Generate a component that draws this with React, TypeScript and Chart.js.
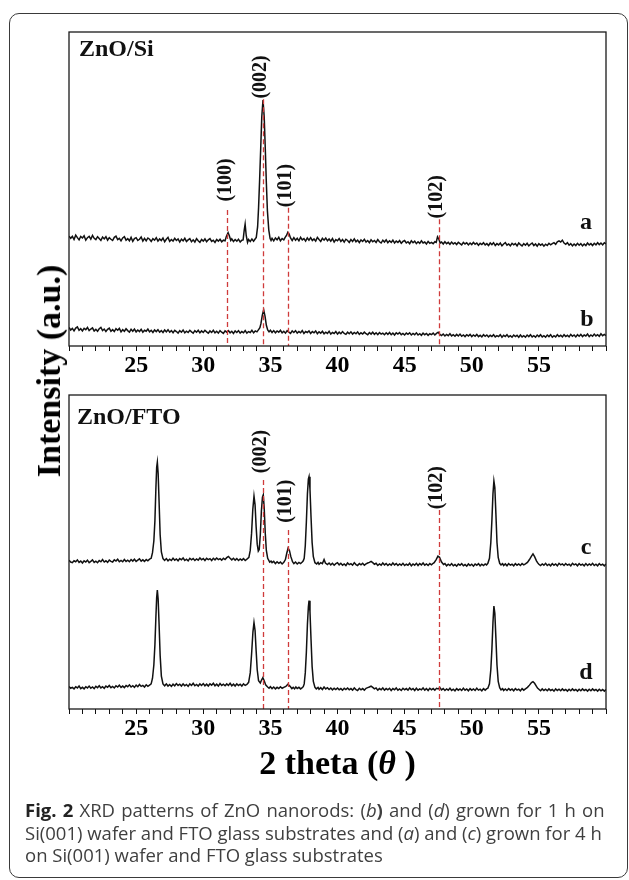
import React, { useEffect, useRef } from "react";
import { Chart, registerables } from "chart.js";

Chart.register(...registerables);

// ---------- data (2θ in degrees, intensity in arbitrary units as drawn) ----------
const X_MIN = 20;
const X_MAX = 60;
const TICK_LABELS = [25, 30, 35, 40, 45, 50, 55];

// ZnO/Si, 4 h (a)
const seriesA: [number, number][] = [
  [20, 35.0], [20.125, 34.3], [20.25, 34.9], [20.375, 33.9], [20.5, 35.3], [20.625, 34.5], [20.75, 33.8], [20.875, 34.9],
  [21, 34.4], [21.125, 35.1], [21.25, 33.7], [21.375, 34.5], [21.5, 34.9], [21.625, 34.0], [21.75, 35.2], [21.875, 34.3],
  [22, 33.9], [22.125, 34.8], [22.25, 34.2], [22.375, 33.6], [22.5, 34.7], [22.625, 34.1], [22.75, 34.8], [22.875, 33.7],
  [23, 34.5], [23.125, 34.0], [23.25, 33.6], [23.375, 34.6], [23.5, 35.0], [23.625, 33.9], [23.75, 34.3], [23.875, 33.5],
  [24, 34.4], [24.125, 34.8], [24.25, 33.7], [24.375, 34.2], [24.5, 33.5], [24.625, 34.6], [24.75, 33.3], [24.875, 34.2],
  [25, 34.5], [25.125, 33.6], [25.25, 34.0], [25.375, 34.7], [25.5, 33.4], [25.625, 34.3], [25.75, 33.5], [25.875, 34.4],
  [26, 34.0], [26.125, 33.3], [26.25, 34.2], [26.375, 33.7], [26.5, 34.5], [26.625, 33.4], [26.75, 34.1], [26.875, 33.6],
  [27, 34.4], [27.125, 33.2], [27.25, 34.0], [27.375, 34.6], [27.5, 33.3], [27.625, 33.9], [27.75, 33.4], [27.875, 34.3],
  [28, 33.6], [28.125, 34.1], [28.25, 33.1], [28.375, 34.0], [28.5, 33.5], [28.625, 34.3], [28.75, 33.3], [28.875, 33.8],
  [29, 34.2], [29.125, 33.2], [29.25, 33.8], [29.375, 33.1], [29.5, 34.2], [29.625, 33.5], [29.75, 33.0], [29.875, 33.9],
  [30, 33.4], [30.125, 34.1], [30.25, 33.2], [30.375, 33.8], [30.5, 34.2], [30.625, 33.3], [30.75, 33.7], [30.875, 33.0],
  [31, 33.9], [31.125, 33.4], [31.25, 34.0], [31.375, 33.2], [31.5, 33.7], [31.625, 33.5], [31.72, 34.9], [31.85, 36.1],
  [31.95, 35.0], [32.05, 33.6], [32.125, 34.1], [32.25, 33.3], [32.375, 33.9], [32.5, 33.4], [32.625, 34.0], [32.75, 33.1],
  [32.875, 33.7], [32.97, 33.8], [33.05, 36.8], [33.12, 38.8], [33.2, 35.2], [33.3, 33.0], [33.375, 33.9], [33.5, 33.3],
  [33.625, 34.1], [33.75, 33.4], [33.85, 34.0], [33.95, 34.6], [34.05, 38.0], [34.12, 44.0], [34.2, 53.0], [34.28, 63.0],
  [34.36, 73.0], [34.45, 78.3], [34.54, 73.0], [34.62, 63.0], [34.7, 52.0], [34.78, 43.0], [34.88, 37.0], [34.98, 34.2],
  [35.05, 33.6], [35.125, 34.3], [35.25, 33.5], [35.375, 34.4], [35.5, 33.8], [35.625, 34.6], [35.75, 33.5], [35.875, 34.2],
  [36, 33.8], [36.1, 34.6], [36.2, 35.2], [36.3, 36.2], [36.4, 35.6], [36.5, 34.4], [36.625, 33.6], [36.75, 34.5],
  [36.875, 33.7], [37, 34.3], [37.125, 33.5], [37.25, 34.6], [37.375, 33.8], [37.5, 34.2], [37.625, 33.4], [37.75, 34.4],
  [37.875, 33.7], [38, 34.5], [38.125, 33.6], [38.25, 34.1], [38.375, 33.4], [38.5, 34.6], [38.625, 33.9], [38.75, 33.3],
  [38.875, 34.3], [39, 33.7], [39.125, 34.4], [39.25, 33.5], [39.375, 34.1], [39.5, 33.4], [39.625, 34.2], [39.75, 33.1],
  [39.875, 33.9], [40, 33.5], [40.125, 34.2], [40.25, 33.3], [40.375, 33.9], [40.5, 33.1], [40.625, 34.0], [40.75, 33.6],
  [40.875, 33.0], [41, 33.9], [41.125, 33.3], [41.25, 34.1], [41.375, 33.2], [41.5, 33.7], [41.625, 32.9], [41.75, 33.8],
  [41.875, 33.3], [42, 34.0], [42.125, 33.1], [42.25, 33.6], [42.375, 32.9], [42.5, 33.8], [42.625, 33.2], [42.75, 33.6],
  [42.875, 33.0], [43, 33.9], [43.125, 33.2], [43.25, 32.8], [43.375, 33.7], [43.5, 33.1], [43.625, 33.8], [43.75, 32.9],
  [43.875, 33.5], [44, 33.0], [44.125, 33.7], [44.25, 32.8], [44.375, 33.4], [44.5, 33.0], [44.625, 33.6], [44.75, 32.7],
  [44.875, 33.3], [45, 33.6], [45.125, 32.8], [45.25, 33.2], [45.375, 32.6], [45.5, 33.5], [45.625, 32.9], [45.75, 33.4],
  [45.875, 32.6], [46, 33.2], [46.125, 32.7], [46.25, 33.5], [46.375, 32.8], [46.5, 33.1], [46.625, 32.5], [46.75, 33.3],
  [46.875, 32.7], [47, 33.0], [47.125, 32.6], [47.25, 33.2], [47.35, 33.0], [47.45, 34.8], [47.55, 34.0], [47.65, 32.8],
  [47.75, 33.1], [47.875, 32.5], [48, 33.2], [48.125, 32.6], [48.25, 33.0], [48.375, 32.4], [48.5, 33.1], [48.625, 32.5],
  [48.75, 32.9], [48.875, 32.3], [49, 33.0], [49.125, 32.6], [49.25, 32.2], [49.375, 33.0], [49.5, 32.5], [49.625, 32.9],
  [49.75, 32.2], [49.875, 32.8], [50, 32.3], [50.125, 33.0], [50.25, 32.4], [50.375, 32.8], [50.5, 32.1], [50.625, 32.7],
  [50.75, 32.3], [50.875, 32.9], [51, 32.2], [51.125, 32.6], [51.25, 32.0], [51.375, 32.8], [51.5, 32.3], [51.625, 32.9],
  [51.75, 32.0], [51.875, 32.6], [52, 32.2], [52.125, 32.8], [52.25, 31.9], [52.375, 32.5], [52.5, 32.9], [52.625, 32.1],
  [52.75, 32.5], [52.875, 31.9], [53, 32.7], [53.125, 32.2], [53.25, 32.6], [53.375, 31.9], [53.5, 32.8], [53.625, 32.3],
  [53.75, 31.9], [53.875, 32.6], [54, 32.1], [54.125, 32.7], [54.25, 31.9], [54.375, 32.4], [54.5, 32.8], [54.625, 32.0],
  [54.75, 32.5], [54.875, 31.8], [55, 32.6], [55.125, 32.1], [55.25, 32.5], [55.375, 31.8], [55.5, 32.4], [55.625, 32.0],
  [55.75, 32.7], [55.875, 32.2], [56, 32.6], [56.125, 32.9], [56.25, 32.4], [56.375, 33.2], [56.5, 33.5], [56.625, 33.1],
  [56.75, 33.7], [56.875, 32.8], [57, 32.4], [57.125, 32.9], [57.25, 32.1], [57.375, 32.6], [57.5, 31.9], [57.625, 32.5],
  [57.75, 32.0], [57.875, 32.7], [58, 32.1], [58.125, 32.6], [58.25, 31.9], [58.375, 32.5], [58.5, 32.0], [58.625, 32.8],
  [58.75, 32.2], [58.875, 32.6], [59, 32.0], [59.125, 32.7], [59.25, 32.2], [59.375, 32.9], [59.5, 32.3], [59.625, 32.8],
  [59.75, 32.2], [59.875, 32.9], [60, 32.5],
];

// ZnO/Si, 1 h (b)
const seriesB: [number, number][] = [
  [20, 5.9], [20.125, 5.1], [20.25, 5.6], [20.375, 4.8], [20.5, 5.7], [20.625, 6.1], [20.75, 5.0], [20.875, 5.5],
  [21, 4.8], [21.125, 5.6], [21.25, 5.2], [21.375, 5.9], [21.5, 4.9], [21.625, 5.4], [21.75, 5.8], [21.875, 4.8],
  [22, 5.3], [22.125, 4.7], [22.25, 5.5], [22.375, 5.9], [22.5, 4.9], [22.625, 5.4], [22.75, 4.6], [22.875, 5.3],
  [23, 5.7], [23.125, 4.7], [23.25, 5.2], [23.375, 4.6], [23.5, 5.5], [23.625, 5.0], [23.75, 5.6], [23.875, 4.5],
  [24, 5.2], [24.125, 4.7], [24.25, 5.5], [24.375, 4.9], [24.5, 4.4], [24.625, 5.3], [24.75, 4.7], [24.875, 5.4],
  [25, 4.5], [25.125, 5.1], [25.25, 4.6], [25.375, 5.3], [25.5, 4.4], [25.625, 5.0], [25.75, 4.7], [25.875, 5.4],
  [26, 4.5], [26.125, 5.0], [26.25, 4.3], [26.375, 5.1], [26.5, 4.6], [26.625, 5.2], [26.75, 4.4], [26.875, 4.9],
  [27, 4.3], [27.125, 5.1], [27.25, 4.5], [27.375, 5.2], [27.5, 4.4], [27.625, 4.9], [27.75, 4.2], [27.875, 5.0],
  [28, 4.6], [28.125, 4.1], [28.25, 4.9], [28.375, 4.4], [28.5, 5.1], [28.625, 4.2], [28.75, 4.7], [28.875, 4.3],
  [29, 5.0], [29.125, 4.5], [29.25, 4.1], [29.375, 4.9], [29.5, 4.4], [29.625, 5.0], [29.75, 4.2], [29.875, 4.8],
  [30, 4.3], [30.125, 5.0], [30.25, 4.5], [30.375, 4.1], [30.5, 4.8], [30.625, 4.3], [30.75, 5.0], [30.875, 4.2],
  [31, 4.7], [31.125, 4.1], [31.25, 4.9], [31.375, 4.4], [31.5, 4.0], [31.625, 4.8], [31.75, 4.4], [31.875, 4.9],
  [32, 4.2], [32.125, 4.7], [32.25, 4.0], [32.375, 4.8], [32.5, 4.3], [32.625, 4.9], [32.75, 4.1], [32.875, 4.6],
  [33, 4.2], [33.125, 4.9], [33.25, 4.1], [33.375, 4.6], [33.5, 4.3], [33.625, 5.0], [33.75, 4.2], [33.875, 4.8],
  [34, 4.5], [34.12, 5.2], [34.22, 5.8], [34.3, 7.2], [34.4, 9.8], [34.5, 11.5], [34.6, 9.5], [34.7, 6.6],
  [34.8, 5.1], [34.9, 4.5], [35, 5.0], [35.125, 4.3], [35.25, 4.9], [35.375, 4.2], [35.5, 4.8], [35.625, 4.4],
  [35.75, 5.0], [35.875, 4.2], [36, 4.7], [36.125, 4.1], [36.25, 4.9], [36.375, 4.4], [36.5, 4.0], [36.625, 4.8],
  [36.75, 4.3], [36.875, 4.9], [37, 4.1], [37.125, 4.6], [37.25, 4.2], [37.375, 4.9], [37.5, 4.0], [37.625, 4.6],
  [37.75, 4.3], [37.875, 4.8], [38, 4.0], [38.125, 4.6], [38.25, 4.2], [38.375, 4.8], [38.5, 3.9], [38.625, 4.5],
  [38.75, 4.1], [38.875, 4.7], [39, 3.9], [39.125, 4.4], [39.25, 4.0], [39.375, 4.7], [39.5, 3.8], [39.625, 4.3],
  [39.75, 4.0], [39.875, 4.6], [40, 3.8], [40.125, 4.4], [40.25, 3.9], [40.375, 4.6], [40.5, 4.0], [40.625, 3.7],
  [40.75, 4.4], [40.875, 3.9], [41, 4.5], [41.125, 3.8], [41.25, 4.3], [41.375, 3.9], [41.5, 4.5], [41.625, 3.7],
  [41.75, 4.2], [41.875, 3.8], [42, 4.4], [42.125, 3.9], [42.25, 3.6], [42.375, 4.3], [42.5, 3.8], [42.625, 4.4],
  [42.75, 3.7], [42.875, 4.2], [43, 3.6], [43.125, 4.3], [43.25, 3.8], [43.375, 4.1], [43.5, 3.6], [43.625, 4.2],
  [43.75, 3.7], [43.875, 4.3], [44, 3.6], [44.125, 4.1], [44.25, 3.5], [44.375, 4.2], [44.5, 3.8], [44.625, 4.3],
  [44.75, 3.6], [44.875, 4.0], [45, 3.5], [45.125, 4.1], [45.25, 3.7], [45.375, 4.2], [45.5, 3.5], [45.625, 4.0],
  [45.75, 3.6], [45.875, 4.2], [46, 3.5], [46.125, 3.9], [46.25, 3.4], [46.375, 4.1], [46.5, 3.6], [46.625, 4.0],
  [46.75, 3.4], [46.875, 3.9], [47, 3.6], [47.125, 4.1], [47.25, 3.5], [47.375, 4.0], [47.5, 4.4], [47.625, 3.7],
  [47.75, 3.3], [47.875, 3.8], [48, 3.2], [48.125, 3.7], [48.25, 3.3], [48.375, 3.9], [48.5, 3.2], [48.625, 3.6],
  [48.75, 3.1], [48.875, 3.7], [49, 3.2], [49.125, 3.8], [49.25, 3.1], [49.375, 3.5], [49.5, 3.0], [49.625, 3.6],
  [49.75, 3.2], [49.875, 3.7], [50, 3.0], [50.125, 3.5], [50.25, 3.1], [50.375, 3.7], [50.5, 3.0], [50.625, 3.4],
  [50.75, 2.9], [50.875, 3.6], [51, 3.1], [51.125, 3.5], [51.25, 2.9], [51.375, 3.4], [51.5, 3.0], [51.625, 3.6],
  [51.75, 2.9], [51.875, 3.3], [52, 3.0], [52.125, 3.6], [52.25, 2.8], [52.375, 3.4], [52.5, 3.0], [52.625, 3.6],
  [52.75, 2.9], [52.875, 3.3], [53, 2.8], [53.125, 3.5], [53.25, 3.0], [53.375, 3.4], [53.5, 2.8], [53.625, 3.5],
  [53.75, 2.9], [53.875, 3.3], [54, 2.8], [54.125, 3.5], [54.25, 3.0], [54.375, 3.6], [54.5, 2.9], [54.625, 3.3],
  [54.75, 2.8], [54.875, 3.5], [55, 3.0], [55.125, 3.6], [55.25, 2.9], [55.375, 3.3], [55.5, 2.8], [55.625, 3.5],
  [55.75, 3.0], [55.875, 3.6], [56, 2.8], [56.125, 3.3], [56.25, 2.9], [56.375, 3.6], [56.5, 3.0], [56.625, 3.4],
  [56.75, 2.9], [56.875, 3.6], [57, 3.0], [57.125, 3.4], [57.25, 2.9], [57.375, 3.7], [57.5, 3.1], [57.625, 3.5],
  [57.75, 2.9], [57.875, 3.6], [58, 3.1], [58.125, 3.7], [58.25, 3.0], [58.375, 3.5], [58.5, 3.2], [58.625, 3.8],
  [58.75, 3.0], [58.875, 3.5], [59, 3.1], [59.125, 3.8], [59.25, 3.2], [59.375, 3.6], [59.5, 3.1], [59.625, 3.9],
  [59.75, 3.3], [59.875, 3.7], [60, 3.3],
];

// ZnO/FTO, 4 h (c)
const seriesC: [number, number][] = [
  [20, 47.4], [20.125, 46.8], [20.25, 46.6], [20.375, 47.2], [20.5, 46.9], [20.625, 47.5], [20.75, 46.7], [20.875, 47.1],
  [21, 46.5], [21.125, 47.2], [21.25, 46.8], [21.375, 47.4], [21.5, 46.6], [21.625, 47.0], [21.75, 47.5], [21.875, 46.7],
  [22, 47.1], [22.125, 46.6], [22.25, 47.3], [22.375, 46.9], [22.5, 47.6], [22.625, 46.8], [22.75, 47.2], [22.875, 46.7],
  [23, 47.4], [23.125, 47.0], [23.25, 46.8], [23.375, 47.5], [23.5, 47.1], [23.625, 47.7], [23.75, 46.9], [23.875, 47.3],
  [24, 46.9], [24.125, 47.6], [24.25, 47.0], [24.375, 47.4], [24.5, 46.9], [24.625, 47.6], [24.75, 47.1], [24.875, 47.7],
  [25, 47.0], [25.125, 47.4], [25.25, 47.8], [25.375, 47.1], [25.5, 47.5], [25.625, 47.0], [25.75, 47.6], [25.875, 47.2],
  [26, 47.7], [26.12, 48.0], [26.22, 49.8], [26.32, 53.5], [26.4, 60.0], [26.47, 70.0], [26.53, 77.0], [26.58, 78.6],
  [26.64, 75.0], [26.71, 66.0], [26.79, 55.5], [26.88, 50.0], [27, 47.9], [27.125, 47.3], [27.25, 47.9], [27.375, 47.2],
  [27.5, 47.7], [27.625, 47.3], [27.75, 48.0], [27.875, 47.4], [28, 47.8], [28.125, 47.2], [28.25, 47.9], [28.375, 47.5],
  [28.5, 48.1], [28.625, 47.3], [28.75, 47.7], [28.875, 47.2], [29, 48.0], [29.125, 47.5], [29.25, 47.9], [29.375, 47.3],
  [29.5, 47.8], [29.625, 47.4], [29.75, 48.1], [29.875, 47.5], [30, 47.9], [30.125, 47.3], [30.25, 48.0], [30.375, 47.6],
  [30.5, 47.9], [30.625, 47.3], [30.75, 48.0], [30.875, 47.5], [31, 48.1], [31.125, 47.6], [31.25, 47.9], [31.375, 47.4],
  [31.5, 48.0], [31.625, 47.6], [31.75, 48.2], [31.875, 48.6], [32, 48.0], [32.125, 47.5], [32.25, 48.0], [32.375, 47.4],
  [32.5, 47.9], [32.625, 47.3], [32.75, 47.8], [32.875, 47.4], [33, 47.9], [33.125, 47.3], [33.25, 47.7], [33.4, 48.3],
  [33.5, 50.5], [33.6, 56.0], [33.69, 63.5], [33.78, 67.8], [33.86, 65.0], [33.94, 58.0], [34.02, 52.5], [34.1, 50.3],
  [34.17, 50.8], [34.25, 55.5], [34.33, 63.0], [34.41, 67.5], [34.47, 68.2], [34.54, 64.0], [34.62, 56.0], [34.7, 50.5],
  [34.8, 48.0], [34.95, 46.8], [35.05, 47.1], [35.125, 46.6], [35.25, 47.0], [35.375, 46.3], [35.5, 46.9], [35.625, 46.4],
  [35.75, 46.8], [35.875, 46.2], [36, 46.7], [36.12, 47.6], [36.22, 49.6], [36.32, 51.2], [36.42, 50.5], [36.52, 48.6],
  [36.65, 46.9], [36.75, 46.3], [36.875, 46.8], [37, 46.2], [37.125, 46.7], [37.25, 46.3], [37.375, 46.8], [37.45, 47.2],
  [37.52, 48.0], [37.6, 52.0], [37.68, 59.5], [37.76, 68.5], [37.83, 73.2], [37.88, 74.0], [37.95, 70.0], [38.03, 61.0],
  [38.11, 53.0], [38.2, 48.5], [38.32, 46.6], [38.45, 46.2], [38.55, 46.7], [38.625, 46.1], [38.75, 46.6], [38.875, 46.3],
  [39, 47.6], [39.1, 46.5], [39.25, 46.0], [39.375, 46.5], [39.5, 45.9], [39.625, 46.4], [39.75, 45.8], [39.875, 46.3],
  [40, 46.6], [40.125, 45.9], [40.25, 46.4], [40.375, 45.8], [40.5, 46.2], [40.625, 45.7], [40.75, 46.5], [40.875, 46.0],
  [41, 46.3], [41.125, 45.8], [41.25, 46.6], [41.375, 46.0], [41.5, 45.7], [41.625, 46.3], [41.75, 45.9], [41.875, 46.4],
  [42, 45.8], [42.125, 46.2], [42.25, 46.5], [42.375, 46.7], [42.5, 47.0], [42.625, 46.6], [42.75, 46.1], [42.875, 46.4],
  [43, 45.7], [43.125, 46.2], [43.25, 45.8], [43.375, 46.5], [43.5, 45.9], [43.625, 46.3], [43.75, 45.7], [43.875, 46.2],
  [44, 45.8], [44.125, 46.5], [44.25, 45.9], [44.375, 46.3], [44.5, 45.7], [44.625, 46.2], [44.75, 45.8], [44.875, 46.4],
  [45, 45.7], [45.125, 46.1], [45.25, 45.8], [45.375, 46.4], [45.5, 45.6], [45.625, 46.2], [45.75, 45.8], [45.875, 46.4],
  [46, 45.7], [46.125, 46.3], [46.25, 45.9], [46.375, 46.5], [46.5, 45.8], [46.625, 46.2], [46.75, 45.7], [46.875, 46.3],
  [47, 45.9], [47.125, 46.4], [47.2, 46.6], [47.35, 47.6], [47.48, 48.7], [47.6, 48.3], [47.75, 46.8], [47.9, 46.0],
  [48, 46.3], [48.125, 45.6], [48.25, 46.1], [48.375, 45.7], [48.5, 46.3], [48.625, 45.6], [48.75, 46.0], [48.875, 45.5],
  [49, 46.2], [49.125, 45.8], [49.25, 46.3], [49.375, 45.6], [49.5, 46.0], [49.625, 45.5], [49.75, 46.2], [49.875, 45.7],
  [50, 46.1], [50.125, 45.5], [50.25, 46.2], [50.375, 45.8], [50.5, 46.3], [50.625, 45.6], [50.75, 46.1], [50.875, 45.7],
  [51, 46.2], [51.1, 45.9], [51.2, 46.4], [51.32, 48.0], [51.42, 53.0], [51.5, 60.0], [51.58, 68.5], [51.65, 72.6],
  [51.72, 70.5], [51.8, 62.0], [51.88, 53.0], [51.97, 48.3], [52.08, 46.4], [52.18, 45.9], [52.3, 46.3], [52.375, 45.7],
  [52.5, 46.2], [52.625, 45.6], [52.75, 46.3], [52.875, 45.8], [53, 46.1], [53.125, 45.6], [53.25, 46.3], [53.375, 45.8],
  [53.5, 46.2], [53.625, 45.7], [53.75, 46.3], [53.875, 45.9], [54, 46.2], [54.15, 46.7], [54.3, 47.6], [54.45, 48.7],
  [54.56, 49.4], [54.68, 48.5], [54.82, 47.2], [54.9, 46.6], [55, 46.1], [55.125, 45.7], [55.25, 46.2], [55.375, 45.8],
  [55.5, 46.4], [55.625, 45.7], [55.75, 46.1], [55.875, 45.6], [56, 46.3], [56.125, 45.8], [56.25, 46.2], [56.375, 45.6],
  [56.5, 46.4], [56.625, 45.9], [56.75, 46.2], [56.875, 45.7], [57, 46.3], [57.125, 45.8], [57.25, 46.1], [57.375, 45.6],
  [57.5, 46.4], [57.625, 45.9], [57.75, 46.2], [57.875, 45.6], [58, 46.3], [58.125, 45.8], [58.25, 46.1], [58.375, 45.6],
  [58.5, 46.3], [58.625, 45.7], [58.75, 46.2], [58.875, 45.8], [59, 46.4], [59.125, 45.7], [59.25, 46.1], [59.375, 45.6],
  [59.5, 46.3], [59.625, 45.8], [59.75, 46.1], [59.875, 45.6], [60, 46.2],
];

// ZnO/FTO, 1 h (d)
const seriesD: [number, number][] = [
  [20, 7.2], [20.125, 6.6], [20.25, 6.9], [20.375, 6.4], [20.5, 7.1], [20.625, 6.7], [20.75, 7.3], [20.875, 6.5],
  [21, 6.9], [21.125, 6.4], [21.25, 7.1], [21.375, 6.7], [21.5, 7.3], [21.625, 6.6], [21.75, 7.0], [21.875, 6.5],
  [22, 7.2], [22.125, 6.8], [22.25, 7.4], [22.375, 6.7], [22.5, 7.1], [22.625, 6.6], [22.75, 7.3], [22.875, 6.9],
  [23, 7.5], [23.125, 6.8], [23.25, 7.2], [23.375, 6.7], [23.5, 7.4], [23.625, 7.0], [23.75, 7.6], [23.875, 6.9],
  [24, 7.3], [24.125, 6.8], [24.25, 7.5], [24.375, 7.1], [24.5, 7.7], [24.625, 7.0], [24.75, 7.4], [24.875, 6.9],
  [25, 7.6], [25.125, 7.1], [25.25, 7.8], [25.375, 7.2], [25.5, 7.5], [25.625, 7.0], [25.75, 7.7], [25.875, 7.2],
  [26, 7.6], [26.12, 8.0], [26.22, 9.8], [26.32, 14.0], [26.4, 20.5], [26.47, 29.0], [26.53, 35.5], [26.58, 37.9],
  [26.64, 35.0], [26.71, 27.0], [26.79, 17.0], [26.88, 10.5], [27, 8.0], [27.125, 7.4], [27.25, 8.0], [27.375, 7.3],
  [27.5, 7.8], [27.625, 7.2], [27.75, 7.9], [27.875, 7.4], [28, 8.1], [28.125, 7.5], [28.25, 7.9], [28.375, 7.3],
  [28.5, 8.0], [28.625, 7.4], [28.75, 7.8], [28.875, 7.2], [29, 8.0], [29.125, 7.5], [29.25, 8.2], [29.375, 7.4],
  [29.5, 7.8], [29.625, 7.3], [29.75, 8.0], [29.875, 7.5], [30, 8.1], [30.125, 7.4], [30.25, 7.9], [30.375, 7.3],
  [30.5, 8.0], [30.625, 7.6], [30.75, 8.2], [30.875, 7.4], [31, 7.9], [31.125, 7.3], [31.25, 8.1], [31.375, 7.5],
  [31.5, 7.9], [31.625, 7.4], [31.75, 8.0], [31.875, 7.5], [32, 8.2], [32.125, 7.4], [32.25, 7.9], [32.375, 7.3],
  [32.5, 8.0], [32.625, 7.5], [32.75, 7.9], [32.875, 7.3], [33, 8.0], [33.125, 7.5], [33.25, 7.8], [33.38, 8.5],
  [33.5, 11.5], [33.6, 17.5], [33.7, 24.5], [33.78, 27.5], [33.86, 25.0], [33.94, 18.5], [34.02, 12.5], [34.12, 9.0],
  [34.25, 8.3], [34.35, 9.3], [34.44, 10.0], [34.54, 9.0], [34.66, 7.6], [34.8, 7.0], [34.9, 6.6], [35, 7.1],
  [35.125, 6.5], [35.25, 7.0], [35.375, 6.4], [35.5, 6.9], [35.625, 6.5], [35.75, 7.1], [35.875, 6.6], [36, 6.9],
  [36.15, 7.2], [36.3, 7.9], [36.45, 7.3], [36.6, 6.5], [36.7, 6.9], [36.8, 6.4], [36.9, 7.0], [37, 6.5],
  [37.125, 6.9], [37.25, 6.4], [37.375, 6.8], [37.45, 7.1], [37.52, 8.0], [37.6, 11.5], [37.68, 18.0], [37.76, 27.0],
  [37.83, 32.5], [37.88, 34.5], [37.95, 31.0], [38.03, 22.0], [38.11, 13.5], [38.2, 8.8], [38.32, 6.9], [38.42, 6.4],
  [38.55, 6.9], [38.625, 6.3], [38.75, 6.8], [38.875, 6.2], [39, 7.0], [39.125, 6.4], [39.25, 6.8], [39.375, 6.2],
  [39.5, 6.7], [39.625, 6.1], [39.75, 6.6], [39.875, 6.2], [40, 6.7], [40.125, 6.1], [40.25, 6.5], [40.375, 6.0],
  [40.5, 6.6], [40.625, 6.2], [40.75, 6.7], [40.875, 6.1], [41, 6.5], [41.125, 6.0], [41.25, 6.7], [41.375, 6.2],
  [41.5, 5.9], [41.625, 6.6], [41.75, 6.1], [41.875, 6.5], [42, 6.0], [42.125, 6.6], [42.25, 6.8], [42.375, 7.0],
  [42.5, 7.3], [42.625, 6.9], [42.75, 6.4], [42.875, 6.7], [43, 6.0], [43.125, 6.5], [43.25, 6.1], [43.375, 6.7],
  [43.5, 6.0], [43.625, 6.5], [43.75, 6.1], [43.875, 6.6], [44, 5.9], [44.125, 6.5], [44.25, 6.1], [44.375, 6.7],
  [44.5, 6.0], [44.625, 6.4], [44.75, 5.9], [44.875, 6.6], [45, 6.1], [45.125, 6.5], [45.25, 6.0], [45.375, 6.7],
  [45.5, 6.1], [45.625, 6.5], [45.75, 5.9], [45.875, 6.6], [46, 6.0], [46.125, 6.4], [46.25, 6.1], [46.375, 6.7],
  [46.5, 6.0], [46.625, 6.5], [46.75, 5.9], [46.875, 6.6], [47, 6.1], [47.125, 6.5], [47.25, 6.0], [47.375, 6.6],
  [47.5, 6.4], [47.625, 6.8], [47.75, 6.1], [47.875, 6.5], [48, 5.9], [48.125, 6.4], [48.25, 6.0], [48.375, 6.6],
  [48.5, 5.9], [48.625, 6.3], [48.75, 5.8], [48.875, 6.5], [49, 6.0], [49.125, 6.4], [49.25, 5.9], [49.375, 6.6],
  [49.5, 6.0], [49.625, 6.4], [49.75, 5.8], [49.875, 6.5], [50, 6.0], [50.125, 6.4], [50.25, 5.9], [50.375, 6.6],
  [50.5, 6.0], [50.625, 6.3], [50.75, 5.8], [50.875, 6.5], [51, 6.0], [51.1, 6.4], [51.2, 6.6], [51.32, 8.0],
  [51.42, 12.5], [51.5, 19.0], [51.58, 27.5], [51.65, 32.8], [51.72, 30.5], [51.8, 22.5], [51.88, 14.0], [51.97, 8.8],
  [52.08, 6.8], [52.18, 6.1], [52.3, 6.5], [52.375, 5.9], [52.5, 6.4], [52.625, 5.9], [52.75, 6.5], [52.875, 6.0],
  [53, 6.4], [53.125, 5.8], [53.25, 6.5], [53.375, 6.0], [53.5, 6.3], [53.625, 5.8], [53.75, 6.5], [53.875, 6.0],
  [54, 6.4], [54.15, 6.9], [54.3, 7.6], [54.45, 8.4], [54.56, 8.7], [54.68, 8.2], [54.82, 7.2], [54.9, 6.7],
  [55, 6.3], [55.125, 5.8], [55.25, 6.4], [55.375, 5.9], [55.5, 6.3], [55.625, 5.8], [55.75, 6.4], [55.875, 5.9],
  [56, 6.2], [56.125, 5.7], [56.25, 6.4], [56.375, 5.9], [56.5, 6.3], [56.625, 5.8], [56.75, 6.4], [56.875, 5.9],
  [57, 6.2], [57.125, 5.7], [57.25, 6.3], [57.375, 5.8], [57.5, 6.4], [57.625, 5.9], [57.75, 6.2], [57.875, 5.7],
  [58, 6.3], [58.125, 5.8], [58.25, 6.4], [58.375, 5.9], [58.5, 6.2], [58.625, 5.7], [58.75, 6.3], [58.875, 5.8],
  [59, 6.4], [59.125, 5.9], [59.25, 6.2], [59.375, 5.7], [59.5, 6.3], [59.625, 5.8], [59.75, 6.2], [59.875, 5.7],
  [60, 6.2],
];

// ZnO reflections (2θ positions)
const hklTop = ["(100)", "(002)", "(101)", "(102)"];
const hklTopPos = [31.8, 34.45, 36.3, 47.55];
const hklBottom = ["(002)", "(101)", "(102)"];
const hklBottomPos = [34.45, 36.3, 47.55];

// ---------- styling / layout ----------
const SERIF = "'Liberation Serif', 'Times New Roman', serif";
const RED = "#cf3b3b";
const INK = "#111";

// y (in axis units) where each dashed line starts and where each rotated label ends
const topLineTop = [43.3, 78.6, 44.0, 40.4];
const topLabelBottom = [46.0, 78.8, 44.2, 40.6];
const bottomLineTop = [72.9, 57.0, 63.4];
const bottomLabelBottom = [75.1, 59.3, 63.6];

const decoPlugin = {
  id: "deco",
  afterDatasetsDraw(chart: any, _args: any, opts: any) {
    const { ctx, chartArea: ca, scales } = chart;
    const xs = scales.x;
    const ys = scales.y;
    ctx.save();
    // dashed reflection lines
    ctx.strokeStyle = RED;
    ctx.lineWidth = 1.3;
    ctx.setLineDash([5, 3]);
    opts.refs.forEach((r: any) => {
      const px = Math.round(xs.getPixelForValue(r.pos)) + 0.5;
      ctx.beginPath();
      ctx.moveTo(px, ys.getPixelForValue(r.lineTop));
      ctx.lineTo(px, ca.bottom);
      ctx.stroke();
    });
    ctx.setLineDash([]);
    // rotated hkl labels
    ctx.fillStyle = INK;
    ctx.font = `bold 20px ${SERIF}`;
    opts.refs.forEach((r: any) => {
      const px = xs.getPixelForValue(r.pos) - 2;
      const py = ys.getPixelForValue(r.labelBottom);
      ctx.save();
      ctx.translate(px, py);
      ctx.rotate(-Math.PI / 2);
      ctx.textAlign = "left";
      ctx.textBaseline = "middle";
      ctx.fillText(r.label, 0, 0);
      ctx.restore();
    });
    // panel title
    ctx.font = `bold 24px ${SERIF}`;
    ctx.textAlign = "left";
    ctx.textBaseline = "middle";
    ctx.fillText(opts.title.text, opts.title.x, opts.title.y);
    // curve tags
    ctx.textAlign = "center";
    opts.tags.forEach((t: any) => ctx.fillText(t.text, t.x, t.y));
    // frame
    ctx.strokeStyle = "#1a1a1a";
    ctx.lineWidth = 1.3;
    ctx.strokeRect(ca.left, ca.top, ca.width, ca.height);
    ctx.restore();
  },
};

function makeConfig(series: [number, number][][], deco: any) {
  return {
    type: "line" as const,
    data: {
      datasets: series.map((s) => ({
        data: s.map(([x, y]) => ({ x, y })),
        borderColor: INK,
        borderWidth: 1.5,
        pointRadius: 0,
        tension: 0,
        fill: false,
      })),
    },
    options: {
      animation: false as const,
      responsive: false,
      devicePixelRatio: 1,
      layout: { padding: { left: 69, right: 23, top: 32, bottom: 0 } },
      plugins: {
        legend: { display: false },
        tooltip: { enabled: false },
        deco,
      },
      scales: {
        x: {
          type: "linear" as const,
          min: X_MIN,
          max: X_MAX,
          border: { display: false },
          grid: { drawOnChartArea: false, drawTicks: true, tickLength: 5, color: INK, lineWidth: 1 },
          ticks: {
            stepSize: 1,
            autoSkip: false,
            maxTicksLimit: 100,
            maxRotation: 0,
            padding: 0,
            color: "#000",
            font: { family: SERIF, weight: "bold" as const, size: 24 },
            callback: (v: any) => (TICK_LABELS.includes(Number(v)) ? String(v) : ""),
          },
          afterFit: (s: any) => {
            s.height = 54;
          },
        },
        y: { display: false, min: 0, max: 100 },
      },
    },
    plugins: [decoPlugin],
  };
}

export default function App() {
  const topRef = useRef<HTMLCanvasElement>(null);
  const botRef = useRef<HTMLCanvasElement>(null);

  useEffect(() => {
    const top = new Chart(
      topRef.current!,
      makeConfig([seriesA, seriesB], {
        refs: hklTop.map((label, i) => ({
          label,
          pos: hklTopPos[i],
          lineTop: topLineTop[i],
          labelBottom: topLabelBottom[i],
        })),
        title: { text: "ZnO/Si", x: 79, y: 50 },
        tags: [
          { text: "a", x: 586, y: 223 },
          { text: "b", x: 587, y: 320 },
        ],
      }) as any
    );
    const bot = new Chart(
      botRef.current!,
      makeConfig([seriesC, seriesD], {
        refs: hklBottom.map((label, i) => ({
          label,
          pos: hklBottomPos[i],
          lineTop: bottomLineTop[i],
          labelBottom: bottomLabelBottom[i],
        })),
        title: { text: "ZnO/FTO", x: 77, y: 55 },
        tags: [
          { text: "c", x: 586, y: 185 },
          { text: "d", x: 586, y: 310 },
        ],
      }) as any
    );
    return () => {
      top.destroy();
      bot.destroy();
    };
  }, []);

  return (
    <div style={{ position: "absolute", left: 0, top: 0, width: 629, height: 880, background: "#fff" }}>
      <div
        style={{
          position: "absolute",
          left: 9,
          top: 13,
          width: 619,
          height: 865,
          border: "1.5px solid #3a3a3a",
          borderRadius: 10,
          boxSizing: "border-box",
        }}
      />
      <canvas ref={topRef} width={629} height={400} style={{ position: "absolute", left: 0, top: 0 }} />
      <canvas ref={botRef} width={629} height={400} style={{ position: "absolute", left: 0, top: 363 }} />
      <div
        style={{
          position: "absolute",
          left: 49,
          top: 371,
          transform: "translate(-50%, -50%) rotate(-90deg)",
          whiteSpace: "nowrap",
          font: `bold 34px ${SERIF}`,
          lineHeight: "36px",
          color: "#000",
        }}
      >
        Intensity (a.u.)
      </div>
      <div
        style={{
          position: "absolute",
          left: 69,
          width: 537,
          top: 744,
          height: 40,
          lineHeight: "40px",
          textAlign: "center",
          font: `bold 34px ${SERIF}`,
          color: "#000",
          whiteSpace: "nowrap",
        }}
      >
        2 theta (<i>θ</i> )
      </div>
      <div
        style={{
          position: "absolute",
          left: 25,
          top: 799,
          fontFamily: "'Open Sans', sans-serif",
          fontSize: 18.5,
          lineHeight: "22.5px",
          color: "#3f3f3f",
          whiteSpace: "nowrap",
        }}
      >
        <div style={{ wordSpacing: "1.4px" }}>
          <b style={{ color: "#222" }}>Fig. 2</b> XRD patterns of ZnO nanorods: (<i>b</i>
          <b>)</b> and (<i>d</i>) grown for 1 h on
        </div>
        <div>
          Si(001) wafer and FTO glass substrates and (<i>a</i>) and (<i>c</i>) grown for 4 h
        </div>
        <div>on Si(001) wafer and FTO glass substrates</div>
      </div>
    </div>
  );
}
